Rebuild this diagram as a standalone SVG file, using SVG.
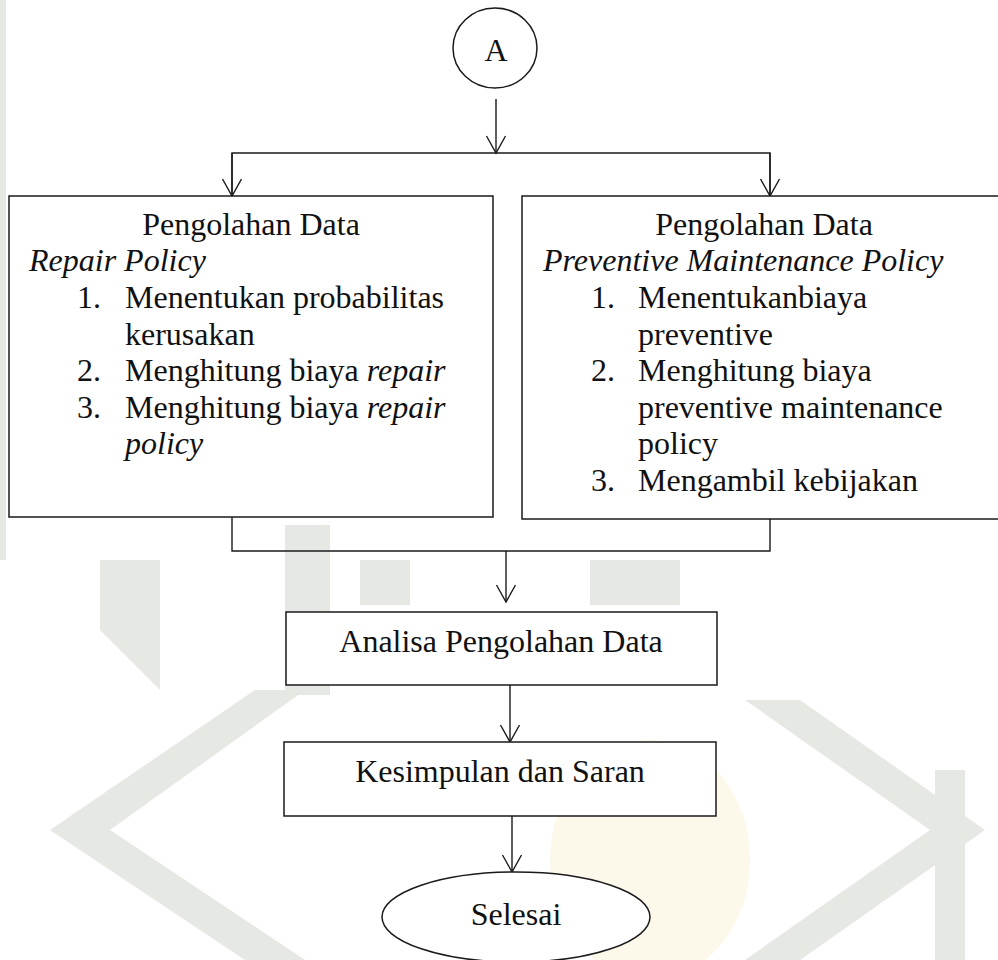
<svg xmlns="http://www.w3.org/2000/svg" width="998" height="960" viewBox="0 0 998 960">
<style>
.wm{fill:#e6e8e4}
.wy{fill:#fcf9ea}
.shape{fill:#ffffff;stroke:#1a1a1a;stroke-width:1.5}
.ln{fill:none;stroke:#1a1a1a;stroke-width:1.4}
text{font-family:"Liberation Serif","Times New Roman",serif;font-size:32px;fill:#111111}
.i{font-style:italic}
.c{text-anchor:middle}
</style>
<defs>
<marker id="arr" markerUnits="userSpaceOnUse" viewBox="-20 -12 22 24" refX="0" refY="0" markerWidth="22" markerHeight="24" orient="auto">
<path d="M-17,-9.5 L0,0 L-17,9.5" fill="none" stroke="#1a1a1a" stroke-width="1.4"/>
</marker>
</defs>
<rect width="998" height="960" fill="#ffffff"/>
<g id="watermark">
<rect class="wm" x="0" y="0" width="6" height="560"/>
<polygon class="wm" points="100,560 160,560 160,690 100,630"/>
<rect class="wm" x="285" y="525" width="45" height="170"/>
<rect class="wm" x="360" y="560" width="50" height="45"/>
<rect class="wm" x="590" y="560" width="90" height="45"/>
<polygon class="wm" points="255,690 305,690 110,830 305,960 245,960 50,830"/>
<polygon class="wm" points="745,700 800,700 985,830 800,960 745,960 930,830"/>
<rect class="wm" x="935" y="770" width="30" height="190"/>
<ellipse class="wy" cx="650" cy="860" rx="100" ry="120"/>
</g>
<g id="connectors">
<path class="ln" d="M496,99 V153" marker-end="url(#arr)"/>
<path class="ln" d="M232,196 V153 H770 V196"/>
<path class="ln" d="M232,153 V196" marker-end="url(#arr)"/>
<path class="ln" d="M770,153 V196" marker-end="url(#arr)"/>
<path class="ln" d="M232,517 V551 H770 V519"/>
<path class="ln" d="M506,551 V602" marker-end="url(#arr)"/>
<path class="ln" d="M510,685 V742" marker-end="url(#arr)"/>
<path class="ln" d="M512,816 V872" marker-end="url(#arr)"/>
</g>
<g id="start-A">
<ellipse class="shape" cx="495" cy="48" rx="42" ry="40"/>
<text class="c" x="496" y="61">A</text>
</g>
<g id="repair-policy">
<rect class="shape" x="9" y="196" width="484" height="321"/>
<text class="c" x="251" y="235">Pengolahan Data</text>
<text class="i" x="29" y="271">Repair Policy</text>
<text x="77" y="308">1.</text>
<text x="125" y="308">Menentukan probabilitas</text>
<text x="125" y="345">kerusakan</text>
<text x="77" y="381">2.</text>
<text x="125" y="381">Menghitung biaya <tspan class="i">repair</tspan></text>
<text x="77" y="418">3.</text>
<text x="125" y="418">Menghitung biaya <tspan class="i">repair</tspan></text>
<text class="i" x="125" y="454">policy</text>
</g>
<g id="preventive-policy">
<rect class="shape" x="522" y="196" width="486" height="323"/>
<text class="c" x="764" y="235">Pengolahan Data</text>
<text class="i" x="543" y="271">Preventive Maintenance Policy</text>
<text x="591" y="308">1.</text>
<text x="638" y="308">Menentukanbiaya</text>
<text x="638" y="345">preventive</text>
<text x="591" y="381">2.</text>
<text x="638" y="381">Menghitung biaya</text>
<text x="638" y="418">preventive maintenance</text>
<text x="638" y="454">policy</text>
<text x="591" y="491">3.</text>
<text x="638" y="491">Mengambil kebijakan</text>
</g>
<g id="analisa">
<rect class="shape" x="286" y="612" width="431" height="73"/>
<text class="c" x="501" y="652">Analisa Pengolahan Data</text>
</g>
<g id="kesimpulan">
<rect class="shape" x="284" y="742" width="432" height="74"/>
<text class="c" x="500" y="782">Kesimpulan dan Saran</text>
</g>
<g id="selesai">
<ellipse class="shape" cx="516" cy="917" rx="134" ry="45"/>
<text class="c" x="516" y="925">Selesai</text>
</g>
</svg>
